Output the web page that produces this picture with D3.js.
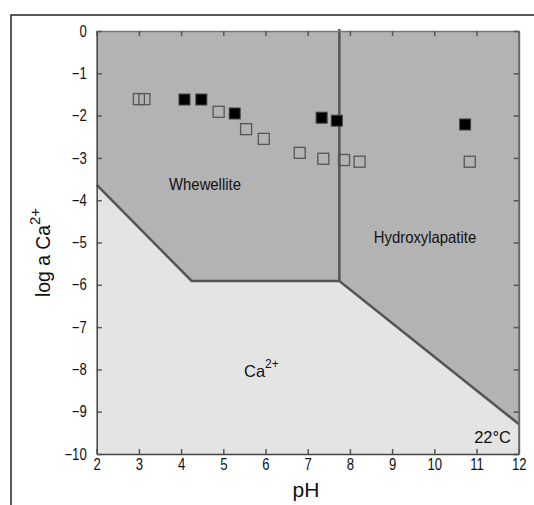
<!DOCTYPE html>
<html>
<head>
<meta charset="utf-8">
<script src="https://cdn.jsdelivr.net/npm/d3@7"></script>
<style>
  body { margin: 0; background: #fff; }
  svg { display: block; font-family: "Liberation Sans", Arial, sans-serif; }
</style>
</head>
<body>
<div id="chart"></div>
<script>
const width = 534;
const height = 505;
const plot = {left: 96.7, right: 518.7, top: 31, bottom: 454};

// measured points (open and filled squares)
const openPH = [3.0, 3.13, 4.89, 5.54, 5.96, 6.81, 7.37, 7.86, 8.23, 10.84];
const openLogCa = [-1.61, -1.61, -1.91, -2.32, -2.55, -2.88, -3.02, -3.05, -3.09, -3.09];
const filledPH = [4.08, 4.48, 5.27, 7.33, 7.69, 10.73];
const filledLogCa = [-1.62, -1.62, -1.95, -2.05, -2.12, -2.21];

// phase boundaries
const boundaryPH = [2, 4.25, 7.75, 12];
const boundaryLogCa = [-3.64, -5.91, -5.91, -9.29];
const dividerPH = 7.75;

const xTicks = [2, 3, 4, 5, 6, 7, 8, 9, 10, 11, 12];
const yTicks = [0, -1, -2, -3, -4, -5, -6, -7, -8, -9, -10];

const svg = d3.select('#chart')
              .append('svg')
              .attr('width', width)
              .attr('height', height);

const x = d3.scaleLinear().domain([2, 12]).range([plot.left, plot.right]);
const y = d3.scaleLinear().domain([0, -10]).range([plot.top, plot.bottom]);

// the original uses a condensed face; squeeze regular glyphs to match
function narrow(sel, k) {
  sel.each(function() {
    const w = this.getComputedTextLength();
    d3.select(this).attr('textLength', w * k).attr('lengthAdjust', 'spacingAndGlyphs');
  });
}

// outer frame (top and left only)
svg.append('path')
   .attr('d', `M11,${height} L11,15 L${width},15`)
   .attr('fill', 'none')
   .attr('stroke', '#222')
   .attr('stroke-width', 1.5);

// Ca2+ field (light) then solid fields (dark)
svg.append('rect')
   .attr('x', x(2)).attr('y', y(0))
   .attr('width', x(12) - x(2)).attr('height', y(-10) - y(0))
   .attr('fill', '#e4e4e4');

const boundary = boundaryPH.map((p, i) => [x(p), y(boundaryLogCa[i])]);
const darkPoly = boundary.concat([[x(12), y(0)], [x(2), y(0)]]);
svg.append('polygon')
   .attr('points', darkPoly.map(d => d.join(',')).join(' '))
   .attr('fill', '#b3b3b3');

// boundary lines
svg.append('path')
   .attr('d', d3.line()(boundary))
   .attr('fill', 'none')
   .attr('stroke', '#555')
   .attr('stroke-width', 2.5);

svg.append('line')
   .attr('x1', x(dividerPH)).attr('x2', x(dividerPH))
   .attr('y1', y(0) - 2).attr('y2', y(boundaryLogCa[2]))
   .attr('stroke', '#555')
   .attr('stroke-width', 2.5);

// axes, ticks pointing inward
const bottomAxis = d3.axisBottom(x).tickValues(xTicks).tickSize(-5).tickSizeOuter(0).tickPadding(5);
const leftAxis = d3.axisLeft(y).tickValues(yTicks).tickSize(-5).tickSizeOuter(0).tickPadding(10)
                   .tickFormat(d => d === 0 ? '0' : '\u2212' + Math.abs(d));
const topAxis = d3.axisTop(x).tickValues(xTicks).tickSize(-5).tickSizeOuter(0).tickFormat('');
const rightAxis = d3.axisRight(y).tickValues(yTicks).tickSize(-5).tickSizeOuter(0).tickFormat('');

function styleAxis(g, col, w) {
  g.attr('font-family', null).attr('font-size', null);
  g.select('.domain').attr('stroke', col).attr('stroke-width', w);
  g.selectAll('.tick line').attr('stroke', '#555').attr('stroke-width', 1.5);
  g.selectAll('.tick text').attr('fill', '#111').style('font-size', '16px').call(narrow, 0.82);
}

svg.append('g').attr('transform', `translate(0,${y(0)})`).call(topAxis).call(g => styleAxis(g, '#777', 1.5));
svg.append('g').attr('transform', `translate(${x(12)},0)`).call(rightAxis).call(g => styleAxis(g, '#666', 2));
svg.append('g').attr('transform', `translate(0,${y(-10)})`).call(bottomAxis).call(g => styleAxis(g, '#444', 1.5));
svg.append('g').attr('transform', `translate(${x(2)},0)`).call(leftAxis).call(g => styleAxis(g, '#444', 1.5));

// data squares
const size = 11;
svg.selectAll('rect.open')
   .data(openPH.map((p, i) => [p, openLogCa[i]]))
   .enter().append('rect')
   .attr('class', 'open')
   .attr('x', d => x(d[0]) - size / 2)
   .attr('y', d => y(d[1]) - size / 2)
   .attr('width', size).attr('height', size)
   .attr('fill', 'none')
   .attr('stroke', '#555')
   .attr('stroke-width', 1.3);

svg.selectAll('rect.filled')
   .data(filledPH.map((p, i) => [p, filledLogCa[i]]))
   .enter().append('rect')
   .attr('class', 'filled')
   .attr('x', d => x(d[0]) - size / 2)
   .attr('y', d => y(d[1]) - size / 2)
   .attr('width', size).attr('height', size)
   .attr('fill', '#000')
   .attr('stroke', '#444')
   .attr('stroke-width', 1);

// field labels
const labels = svg.append('g').attr('fill', '#111').style('font-size', '16.5px');
labels.append('text').attr('x', 205).attr('y', 190).attr('text-anchor', 'middle').text('Whewellite').call(narrow, 0.9);
labels.append('text').attr('x', 425).attr('y', 243).attr('text-anchor', 'middle').text('Hydroxylapatite').call(narrow, 0.9);
labels.append('text').attr('x', 511).attr('y', 443).attr('text-anchor', 'end').text('22°C');
const ca = labels.append('text').attr('x', 244).attr('y', 377);
ca.append('tspan').text('Ca');
ca.append('tspan').attr('dy', -9).style('font-size', '12px').text('2+');

// axis titles
svg.append('text')
   .attr('x', 306).attr('y', 497)
   .attr('text-anchor', 'middle')
   .style('font-size', '21px')
   .attr('fill', '#111')
   .text('pH');

const yTitle = svg.append('text')
   .attr('transform', 'translate(50,297) rotate(-90)')
   .style('font-size', '21px')
   .attr('fill', '#111');
yTitle.append('tspan').text('log a Ca').call(narrow, 0.92);
yTitle.append('tspan').attr('dy', -10).style('font-size', '15px').text('2+');
</script>
</body>
</html>
